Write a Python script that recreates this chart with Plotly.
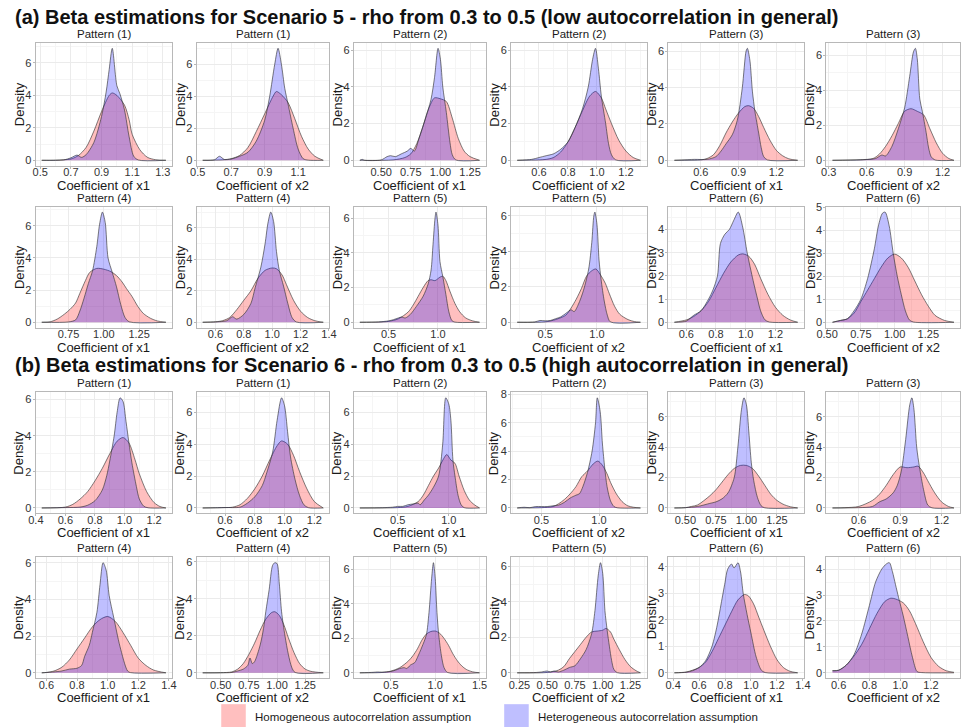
import plotly.graph_objects as go

# ---------------------------------------------------------------------------
# Kernel density curves of the estimated coefficients (x = estimate, y = density)
# "hom" = homogeneous autocorrelation assumption, "het" = heterogeneous
# ---------------------------------------------------------------------------

# Scenario 5 -------------------------------------------------------------
a1_hom_x = [0.51, 0.6, 0.7, 0.75, 0.8, 0.85, 0.9, 0.95, 0.97, 1.0, 1.05, 1.08, 1.1, 1.15, 1.2, 1.25, 1.32]
a1_hom_y = [0, 0.01, 0.08, 0.3, 0.8, 1.8, 3.0, 4.0, 4.15, 4.0, 3.4, 2.5, 1.6, 0.65, 0.18, 0.04, 0]
a1_het_x = [0.51, 0.65, 0.7, 0.74, 0.77, 0.8, 0.85, 0.9, 0.93, 0.95, 0.97, 1.0, 1.02, 1.05, 1.08, 1.11, 1.14, 1.32]
a1_het_y = [0, 0.02, 0.15, 0.32, 0.18, 0.35, 1.1, 2.7, 4.2, 5.6, 6.9, 4.6, 4.1, 3.1, 1.45, 0.25, 0.02, 0]

a2_hom_x = [0.53, 0.65, 0.7, 0.75, 0.8, 0.85, 0.9, 0.95, 0.97, 1.0, 1.04, 1.08, 1.12, 1.16, 1.2, 1.25]
a2_hom_y = [0, 0.03, 0.1, 0.3, 0.8, 1.8, 2.9, 4.0, 4.3, 4.1, 3.6, 2.6, 1.5, 0.7, 0.25, 0]
a2_het_x = [0.53, 0.6, 0.63, 0.66, 0.7, 0.75, 0.8, 0.85, 0.9, 0.93, 0.96, 0.98, 1.0, 1.02, 1.04, 1.07, 1.1, 1.13, 1.16, 1.25]
a2_het_y = [0, 0.03, 0.25, 0.05, 0.08, 0.25, 0.5, 1.2, 2.5, 4.0, 6.0, 7.0, 6.0, 4.5, 3.5, 2.0, 0.7, 0.1, 0.01, 0]

a3_hom_x = [0.32, 0.6, 0.7, 0.75, 0.8, 0.85, 0.9, 0.95, 1.0, 1.05, 1.1, 1.15, 1.2, 1.25, 1.33]
a3_hom_y = [0, 0.02, 0.15, 0.35, 0.9, 1.8, 2.8, 3.4, 3.35, 3.2, 2.3, 1.2, 0.5, 0.2, 0]
a3_het_x = [0.32, 0.34, 0.36, 0.5, 0.55, 0.58, 0.62, 0.67, 0.72, 0.75, 0.78, 0.82, 0.87, 0.92, 0.95, 0.98, 1.0, 1.02, 1.05, 1.08, 1.1, 1.13, 1.33]
a3_het_y = [0, 0.05, 0, 0.02, 0.2, 0.25, 0.2, 0.35, 0.5, 0.65, 0.5, 1.2, 2.2, 3.3, 4.5, 6.1, 5.5, 4.0, 2.6, 1.0, 0.3, 0.02, 0]

a4_hom_x = [0.45, 0.6, 0.65, 0.7, 0.75, 0.8, 0.85, 0.9, 0.95, 0.99, 1.03, 1.06, 1.1, 1.15, 1.2, 1.25, 1.3]
a4_hom_y = [0, 0.02, 0.05, 0.15, 0.45, 1.0, 1.8, 2.7, 3.5, 3.75, 3.4, 2.8, 2.0, 1.1, 0.5, 0.15, 0]
a4_het_x = [0.45, 0.55, 0.6, 0.65, 0.7, 0.75, 0.8, 0.85, 0.9, 0.94, 0.97, 0.99, 1.01, 1.03, 1.06, 1.08, 1.1, 1.13, 1.3]
a4_het_y = [0, 0.05, 0.15, 0.25, 0.35, 0.6, 1.0, 1.8, 2.8, 4.0, 5.5, 6.1, 5.0, 3.5, 2.0, 0.9, 0.3, 0.02, 0]

a5_hom_x = [0.39, 0.6, 0.65, 0.7, 0.75, 0.8, 0.85, 0.9, 0.95, 0.98, 1.02, 1.06, 1.1, 1.15, 1.2, 1.25, 1.3, 1.37]
a5_hom_y = [0, 0.02, 0.1, 0.3, 0.8, 1.5, 2.1, 2.6, 2.95, 3.0, 2.85, 2.4, 1.8, 1.1, 0.55, 0.25, 0.08, 0]
a5_het_x = [0.39, 0.55, 0.65, 0.72, 0.76, 0.8, 0.85, 0.89, 0.93, 0.96, 0.97, 0.99, 1.01, 1.03, 1.06, 1.08, 1.1, 1.13, 1.37]
a5_het_y = [0, 0.05, 0.05, 0.2, 0.5, 0.9, 1.4, 2.2, 4.0, 6.0, 6.15, 5.5, 3.8, 2.7, 1.5, 0.7, 0.2, 0.02, 0]

a6_hom_x = [0.33, 0.55, 0.65, 0.7, 0.75, 0.8, 0.85, 0.9, 0.95, 1.0, 1.05, 1.1, 1.15, 1.2, 1.25, 1.29]
a6_hom_y = [0, 0.02, 0.1, 0.35, 0.8, 1.4, 2.1, 2.8, 2.95, 2.8, 2.6, 1.8, 1.0, 0.4, 0.1, 0]
a6_het_x = [0.33, 0.6, 0.67, 0.72, 0.75, 0.8, 0.85, 0.9, 0.94, 0.97, 0.985, 1.0, 1.02, 1.04, 1.07, 1.09, 1.11, 1.14, 1.29]
a6_het_y = [0, 0.05, 0.1, 0.3, 0.25, 0.8, 1.8, 3.0, 4.8, 6.2, 6.4, 5.8, 3.5, 2.8, 1.6, 0.7, 0.2, 0.02, 0]

a7_hom_x = [0.56, 0.62, 0.67, 0.72, 0.76, 0.8, 0.83, 0.87, 0.9, 0.95, 1.0, 1.05, 1.09, 1.13, 1.16, 1.2, 1.24, 1.28, 1.33, 1.38, 1.44]
a7_hom_y = [0, 0.03, 0.2, 0.5, 0.8, 1.2, 1.8, 2.6, 3.1, 3.35, 3.3, 3.15, 2.9, 2.5, 2.1, 1.6, 1.0, 0.55, 0.25, 0.08, 0]
a7_het_x = [0.56, 0.75, 0.8, 0.83, 0.86, 0.89, 0.92, 0.95, 0.97, 0.99, 1.01, 1.03, 1.06, 1.09, 1.12, 1.15, 1.18, 1.44]
a7_het_y = [0, 0.02, 0.15, 0.7, 1.5, 2.4, 3.2, 4.7, 6.1, 6.85, 6.2, 4.0, 3.1, 2.2, 1.1, 0.3, 0.03, 0]

a8_hom_x = [0.51, 0.6, 0.65, 0.7, 0.75, 0.8, 0.85, 0.9, 0.95, 1.0, 1.03, 1.07, 1.1, 1.15, 1.2, 1.25, 1.3, 1.36]
a8_hom_y = [0, 0.03, 0.1, 0.3, 0.8, 1.4, 2.0, 2.8, 3.3, 3.45, 3.4, 3.0, 2.4, 1.4, 0.7, 0.3, 0.1, 0]
a8_het_x = [0.51, 0.6, 0.68, 0.72, 0.75, 0.8, 0.85, 0.88, 0.92, 0.95, 0.97, 0.99, 1.01, 1.03, 1.05, 1.08, 1.11, 1.14, 1.17, 1.36]
a8_het_y = [0, 0.02, 0.1, 0.35, 0.2, 0.5, 1.2, 2.2, 3.5, 5.0, 6.3, 7.0, 6.4, 4.5, 3.3, 2.3, 1.2, 0.3, 0.02, 0]

a9_hom_x = [0.21, 0.4, 0.5, 0.6, 0.7, 0.75, 0.8, 0.85, 0.9, 0.93, 0.97, 1.02, 1.05, 1.08, 1.12, 1.17, 1.22, 1.28, 1.35, 1.42]
a9_hom_y = [0, 0.01, 0.05, 0.2, 0.6, 1.0, 1.5, 2.0, 2.4, 2.45, 2.4, 2.6, 2.65, 2.4, 1.8, 1.1, 0.6, 0.25, 0.08, 0]
a9_het_x = [0.21, 0.4, 0.5, 0.55, 0.6, 0.63, 0.67, 0.72, 0.78, 0.85, 0.9, 0.93, 0.95, 0.97, 0.98, 1.0, 1.02, 1.05, 1.08, 1.11, 1.14, 1.17, 1.42]
a9_het_y = [0, 0.02, 0.08, 0.15, 0.25, 0.3, 0.25, 0.45, 0.9, 1.5, 2.2, 3.0, 4.5, 6.0, 6.35, 5.6, 3.5, 2.6, 1.6, 0.6, 0.1, 0.01, 0]

a10_hom_x = [0.23, 0.5, 0.6, 0.7, 0.75, 0.8, 0.85, 0.9, 0.95, 0.99, 1.03, 1.08, 1.12, 1.17, 1.22, 1.3, 1.36, 1.42]
a10_hom_y = [0, 0.02, 0.15, 0.4, 0.8, 1.3, 1.9, 2.6, 2.9, 3.0, 2.7, 2.2, 1.6, 0.9, 0.45, 0.15, 0.04, 0]
a10_het_x = [0.23, 0.4, 0.45, 0.5, 0.55, 0.6, 0.65, 0.7, 0.75, 0.78, 0.82, 0.87, 0.92, 0.95, 0.97, 0.98, 1.0, 1.02, 1.04, 1.07, 1.1, 1.13, 1.42]
a10_het_y = [0, 0.02, 0.1, 0.08, 0.1, 0.2, 0.3, 0.5, 0.7, 0.6, 1.0, 1.8, 3.0, 4.5, 6.0, 6.2, 5.5, 3.5, 2.4, 1.2, 0.4, 0.02, 0]

a11_hom_x = [0.52, 0.6, 0.65, 0.7, 0.75, 0.8, 0.85, 0.9, 0.95, 0.98, 1.02, 1.06, 1.1, 1.15, 1.2, 1.25, 1.3, 1.35]
a11_hom_y = [0, 0.1, 0.25, 0.5, 0.9, 1.5, 2.1, 2.6, 2.9, 2.95, 2.85, 2.5, 1.9, 1.2, 0.65, 0.3, 0.1, 0]
a11_het_x = [0.52, 0.6, 0.65, 0.7, 0.75, 0.78, 0.81, 0.83, 0.86, 0.89, 0.92, 0.95, 0.98, 1.01, 1.05, 1.08, 1.1, 1.13, 1.16, 1.35]
a11_het_y = [0, 0.05, 0.3, 0.5, 1.0, 1.4, 2.0, 3.4, 3.8, 4.0, 4.4, 4.75, 4.1, 3.0, 1.8, 1.0, 0.5, 0.1, 0.01, 0]

a12_hom_x = [0.54, 0.6, 0.65, 0.7, 0.75, 0.8, 0.85, 0.9, 0.95, 1.0, 1.05, 1.1, 1.15, 1.2, 1.25, 1.3, 1.37, 1.44]
a12_hom_y = [0, 0.08, 0.15, 0.4, 0.9, 1.4, 1.9, 2.4, 2.8, 2.97, 2.8, 2.4, 1.8, 1.2, 0.7, 0.3, 0.08, 0]
a12_het_x = [0.54, 0.6, 0.65, 0.7, 0.75, 0.8, 0.85, 0.88, 0.91, 0.93, 0.96, 0.99, 1.02, 1.05, 1.08, 1.11, 1.14, 1.44]
a12_het_y = [0, 0.08, 0.15, 0.5, 1.0, 1.9, 3.2, 4.2, 4.75, 4.8, 4.2, 3.0, 2.0, 1.2, 0.5, 0.1, 0.01, 0]

# Scenario 6 -------------------------------------------------------------
b1_hom_x = [0.44, 0.6, 0.65, 0.7, 0.75, 0.8, 0.85, 0.9, 0.95, 0.99, 1.03, 1.07, 1.1, 1.15, 1.2, 1.24, 1.28]
b1_hom_y = [0, 0.05, 0.2, 0.5, 0.9, 1.5, 2.2, 3.0, 3.7, 3.9, 3.6, 2.7, 1.9, 0.9, 0.3, 0.08, 0]
b1_het_x = [0.44, 0.6, 0.7, 0.75, 0.8, 0.85, 0.88, 0.9, 0.93, 0.95, 0.97, 0.99, 1.01, 1.03, 1.05, 1.08, 1.1, 1.13, 1.16, 1.28]
b1_het_y = [0, 0.02, 0.05, 0.15, 0.4, 1.0, 1.8, 2.6, 4.0, 5.3, 6.1, 5.9, 4.8, 3.6, 2.5, 1.2, 0.5, 0.1, 0.01, 0]

b2_hom_x = [0.45, 0.6, 0.65, 0.7, 0.75, 0.8, 0.85, 0.9, 0.95, 0.98, 1.02, 1.06, 1.1, 1.15, 1.2, 1.26]
b2_hom_y = [0, 0.02, 0.05, 0.2, 0.6, 1.2, 2.0, 3.0, 3.9, 4.2, 4.0, 3.3, 2.3, 1.2, 0.4, 0]
b2_het_x = [0.45, 0.55, 0.6, 0.7, 0.75, 0.8, 0.85, 0.88, 0.92, 0.95, 0.98, 1.0, 1.02, 1.04, 1.07, 1.1, 1.13, 1.16, 1.26]
b2_het_y = [0, 0.02, 0.03, 0.05, 0.3, 0.7, 1.4, 2.2, 3.5, 5.5, 6.9, 6.4, 4.8, 3.2, 1.8, 0.8, 0.2, 0.02, 0]

b3_hom_x = [0.13, 0.5, 0.6, 0.7, 0.75, 0.8, 0.85, 0.9, 0.95, 0.98, 1.02, 1.06, 1.1, 1.15, 1.2, 1.25, 1.3]
b3_hom_y = [0, 0.02, 0.1, 0.4, 0.8, 1.4, 2.0, 2.5, 3.1, 3.35, 3.0, 2.8, 2.0, 1.1, 0.5, 0.2, 0]
b3_het_x = [0.13, 0.35, 0.45, 0.5, 0.55, 0.6, 0.65, 0.7, 0.72, 0.76, 0.8, 0.85, 0.9, 0.94, 0.97, 1.0, 1.02, 1.04, 1.06, 1.09, 1.12, 1.15, 1.3]
b3_het_y = [0, 0.02, 0.05, 0.1, 0.1, 0.2, 0.25, 0.3, 0.2, 0.5, 0.8, 1.3, 2.0, 4.0, 6.9, 6.5, 5.5, 3.0, 2.0, 0.8, 0.2, 0.02, 0]

b4_hom_x = [0.29, 0.5, 0.6, 0.65, 0.7, 0.75, 0.8, 0.85, 0.9, 0.95, 0.99, 1.03, 1.07, 1.1, 1.15, 1.2, 1.25, 1.3, 1.36]
b4_hom_y = [0, 0.02, 0.1, 0.3, 0.6, 1.0, 1.5, 2.2, 2.6, 3.1, 3.3, 3.0, 2.4, 1.8, 1.0, 0.45, 0.15, 0.05, 0]
b4_het_x = [0.29, 0.35, 0.4, 0.45, 0.5, 0.55, 0.6, 0.65, 0.7, 0.75, 0.8, 0.83, 0.86, 0.9, 0.94, 0.97, 0.985, 1.01, 1.03, 1.05, 1.07, 1.1, 1.13, 1.16, 1.36]
b4_het_y = [0, 0.05, 0.02, 0.1, 0.1, 0.1, 0.15, 0.2, 0.4, 0.7, 0.9, 1.0, 1.5, 2.5, 4.0, 6.0, 7.75, 6.8, 4.5, 2.8, 1.5, 0.5, 0.1, 0.01, 0]

b5_hom_x = [0.41, 0.5, 0.55, 0.6, 0.7, 0.75, 0.8, 0.85, 0.9, 0.95, 1.0, 1.05, 1.1, 1.15, 1.2, 1.25, 1.3, 1.36, 1.42]
b5_hom_y = [0, 0.02, 0.1, 0.2, 0.8, 1.2, 1.7, 2.2, 2.6, 2.8, 2.8, 2.6, 2.1, 1.5, 0.9, 0.5, 0.25, 0.08, 0]
b5_het_x = [0.41, 0.5, 0.6, 0.7, 0.75, 0.8, 0.85, 0.9, 0.93, 0.96, 0.98, 1.0, 1.02, 1.04, 1.06, 1.09, 1.12, 1.15, 1.42]
b5_het_y = [0, 0.02, 0.1, 0.3, 0.4, 0.6, 1.0, 2.0, 4.0, 6.5, 7.25, 6.8, 5.0, 3.0, 1.8, 0.7, 0.15, 0.01, 0]

b6_hom_x = [0.41, 0.5, 0.6, 0.7, 0.75, 0.8, 0.85, 0.9, 0.95, 1.0, 1.03, 1.07, 1.1, 1.15, 1.2, 1.25, 1.29]
b6_hom_y = [0, 0.02, 0.1, 0.5, 0.9, 1.5, 2.2, 2.7, 2.65, 2.7, 2.75, 2.3, 1.8, 1.0, 0.4, 0.1, 0]
b6_het_x = [0.41, 0.6, 0.7, 0.75, 0.8, 0.85, 0.88, 0.91, 0.94, 0.97, 0.985, 1.0, 1.02, 1.04, 1.07, 1.1, 1.13, 1.29]
b6_het_y = [0, 0.02, 0.1, 0.4, 0.6, 1.0, 1.5, 2.5, 4.5, 6.8, 7.25, 6.5, 4.0, 2.7, 1.2, 0.2, 0.01, 0]

b7_hom_x = [0.57, 0.6, 0.65, 0.7, 0.75, 0.8, 0.85, 0.9, 0.95, 1.0, 1.05, 1.1, 1.15, 1.2, 1.25, 1.3, 1.38]
b7_hom_y = [0, 0.02, 0.1, 0.3, 0.7, 1.3, 1.9, 2.5, 2.9, 3.07, 2.8, 2.2, 1.5, 0.8, 0.4, 0.15, 0]
b7_het_x = [0.57, 0.65, 0.7, 0.75, 0.8, 0.83, 0.85, 0.88, 0.9, 0.93, 0.95, 0.97, 0.99, 1.01, 1.04, 1.08, 1.13, 1.15, 1.38]
b7_het_y = [0, 0.05, 0.1, 0.2, 0.25, 0.4, 0.9, 1.5, 2.2, 3.3, 4.8, 6.0, 5.6, 4.2, 3.0, 1.45, 0.1, 0.01, 0]

b8_hom_x = [0.34, 0.5, 0.6, 0.65, 0.7, 0.75, 0.8, 0.85, 0.9, 0.95, 0.98, 1.02, 1.06, 1.1, 1.15, 1.2, 1.25, 1.3, 1.41]
b8_hom_y = [0, 0.01, 0.05, 0.2, 0.5, 1.0, 1.6, 2.3, 2.9, 3.25, 3.3, 3.1, 2.6, 1.9, 1.1, 0.5, 0.2, 0.08, 0]
b8_het_x = [0.34, 0.5, 0.6, 0.65, 0.7, 0.74, 0.76, 0.78, 0.8, 0.85, 0.88, 0.9, 0.93, 0.96, 0.98, 1.0, 1.02, 1.04, 1.07, 1.1, 1.13, 1.16, 1.41]
b8_het_y = [0, 0.0, 0.02, 0.1, 0.2, 0.4, 0.8, 0.5, 0.6, 1.5, 2.4, 3.3, 4.5, 5.8, 5.95, 5.9, 4.8, 3.3, 2.0, 1.0, 0.3, 0.02, 0]

b9_hom_x = [0.15, 0.4, 0.5, 0.6, 0.7, 0.75, 0.8, 0.85, 0.9, 0.95, 1.0, 1.05, 1.1, 1.15, 1.2, 1.25, 1.3, 1.35, 1.42, 1.5]
b9_hom_y = [0, 0.02, 0.1, 0.3, 0.7, 1.0, 1.4, 1.9, 2.25, 2.4, 2.43, 2.3, 2.0, 1.6, 1.1, 0.7, 0.4, 0.2, 0.06, 0]
b9_het_x = [0.15, 0.3, 0.35, 0.4, 0.5, 0.55, 0.6, 0.65, 0.68, 0.72, 0.77, 0.8, 0.85, 0.9, 0.93, 0.96, 0.98, 1.0, 1.02, 1.04, 1.07, 1.1, 1.14, 1.5]
b9_het_y = [0, 0.03, 0.05, 0.04, 0.08, 0.15, 0.25, 0.3, 0.25, 0.45, 0.6, 0.9, 1.5, 2.2, 3.5, 5.5, 6.4, 5.5, 3.5, 2.2, 1.0, 0.3, 0.02, 0]

b10_hom_x = [0.23, 0.5, 0.6, 0.65, 0.7, 0.75, 0.8, 0.85, 0.9, 0.95, 1.0, 1.03, 1.07, 1.1, 1.15, 1.2, 1.25, 1.3, 1.34]
b10_hom_y = [0, 0.02, 0.15, 0.35, 0.8, 1.2, 1.6, 2.0, 2.3, 2.35, 2.4, 2.5, 2.3, 1.9, 1.3, 0.75, 0.35, 0.12, 0]
b10_het_x = [0.23, 0.4, 0.45, 0.5, 0.53, 0.56, 0.6, 0.65, 0.7, 0.75, 0.8, 0.85, 0.9, 0.93, 0.96, 0.98, 1.0, 1.02, 1.04, 1.06, 1.08, 1.1, 1.13, 1.34]
b10_het_y = [0, 0.02, 0.05, 0.1, 0.05, 0.1, 0.05, 0.15, 0.3, 0.4, 0.8, 1.3, 2.2, 3.5, 5.5, 6.2, 5.6, 3.5, 2.4, 1.5, 0.7, 0.2, 0.01, 0]

b11_hom_x = [0.41, 0.5, 0.55, 0.6, 0.65, 0.7, 0.75, 0.8, 0.85, 0.9, 0.95, 0.98, 1.02, 1.06, 1.1, 1.15, 1.2, 1.25, 1.3, 1.36]
b11_hom_y = [0, 0.03, 0.1, 0.2, 0.4, 0.8, 1.3, 1.8, 2.3, 2.75, 2.95, 2.9, 2.6, 2.1, 1.6, 1.0, 0.5, 0.2, 0.06, 0]
b11_het_x = [0.41, 0.5, 0.55, 0.6, 0.65, 0.7, 0.74, 0.77, 0.8, 0.82, 0.85, 0.87, 0.9, 0.92, 0.94, 0.97, 1.0, 1.04, 1.08, 1.11, 1.36]
b11_het_y = [0, 0.02, 0.08, 0.2, 0.45, 1.0, 1.8, 2.6, 3.4, 3.9, 4.1, 3.95, 4.15, 3.8, 3.0, 2.2, 1.5, 0.6, 0.1, 0.01, 0]

b12_hom_x = [0.56, 0.6, 0.65, 0.7, 0.75, 0.8, 0.85, 0.9, 0.94, 0.97, 1.02, 1.06, 1.1, 1.15, 1.2, 1.25, 1.3, 1.35]
b12_hom_y = [0.08, 0.1, 0.3, 0.65, 1.1, 1.7, 2.3, 2.75, 2.88, 2.85, 2.7, 2.4, 1.9, 1.2, 0.6, 0.25, 0.08, 0.02]
b12_het_x = [0.56, 0.6, 0.65, 0.7, 0.75, 0.8, 0.84, 0.88, 0.91, 0.93, 0.95, 0.97, 0.99, 1.02, 1.05, 1.08, 1.11, 1.14, 1.35]
b12_het_y = [0.08, 0.1, 0.3, 0.7, 1.5, 2.6, 3.5, 4.0, 4.2, 4.25, 3.9, 3.4, 2.9, 2.2, 1.4, 0.6, 0.05, 0.01, 0.0]

# Facet labels and axis text
panel_titles = ["Pattern (1)", "Pattern (1)", "Pattern (2)", "Pattern (2)", "Pattern (3)", "Pattern (3)",
                "Pattern (4)", "Pattern (4)", "Pattern (5)", "Pattern (5)", "Pattern (6)", "Pattern (6)"] * 2
x_titles = ["Coefficient of x1", "Coefficient of x2"] * 12
# x tick anchor, x tick step, x tick format, y tick step
tick_specs = [
    (0.5, 0.2, ".1f", 2), (0.5, 0.2, ".1f", 2), (0.5, 0.25, ".2f", 2), (0.6, 0.2, ".1f", 2),
    (0.6, 0.3, ".1f", 2), (0.3, 0.3, ".1f", 2), (0.75, 0.25, ".2f", 2), (0.6, 0.2, ".1f", 2),
    (0.5, 0.5, ".1f", 2), (0.5, 0.5, ".1f", 2), (0.6, 0.2, ".1f", 1), (0.5, 0.25, ".2f", 1),
    (0.4, 0.2, ".1f", 2), (0.6, 0.2, ".1f", 2), (0.5, 0.5, ".1f", 2), (0.5, 0.5, ".1f", 2),
    (0.5, 0.25, ".2f", 2), (0.6, 0.3, ".1f", 2), (0.6, 0.2, ".1f", 2), (0.5, 0.25, ".2f", 2),
    (0.5, 0.5, ".1f", 2), (0.25, 0.25, ".2f", 2), (0.4, 0.2, ".1f", 1), (0.6, 0.2, ".1f", 1),
]
section_titles = [
    "(a) Beta estimations for Scenario 5 - rho from 0.3 to 0.5 (low autocorrelation in general)",
    "(b) Beta estimations for Scenario 6 - rho from 0.3 to 0.5 (high autocorrelation in general)",
]
legend_labels = ["Homogeneous autocorrelation assumption", "Heterogeneous autocorrelation assumption"]

curves = [
    (a1_hom_x, a1_hom_y, a1_het_x, a1_het_y), (a2_hom_x, a2_hom_y, a2_het_x, a2_het_y),
    (a3_hom_x, a3_hom_y, a3_het_x, a3_het_y), (a4_hom_x, a4_hom_y, a4_het_x, a4_het_y),
    (a5_hom_x, a5_hom_y, a5_het_x, a5_het_y), (a6_hom_x, a6_hom_y, a6_het_x, a6_het_y),
    (a7_hom_x, a7_hom_y, a7_het_x, a7_het_y), (a8_hom_x, a8_hom_y, a8_het_x, a8_het_y),
    (a9_hom_x, a9_hom_y, a9_het_x, a9_het_y), (a10_hom_x, a10_hom_y, a10_het_x, a10_het_y),
    (a11_hom_x, a11_hom_y, a11_het_x, a11_het_y), (a12_hom_x, a12_hom_y, a12_het_x, a12_het_y),
    (b1_hom_x, b1_hom_y, b1_het_x, b1_het_y), (b2_hom_x, b2_hom_y, b2_het_x, b2_het_y),
    (b3_hom_x, b3_hom_y, b3_het_x, b3_het_y), (b4_hom_x, b4_hom_y, b4_het_x, b4_het_y),
    (b5_hom_x, b5_hom_y, b5_het_x, b5_het_y), (b6_hom_x, b6_hom_y, b6_het_x, b6_het_y),
    (b7_hom_x, b7_hom_y, b7_het_x, b7_het_y), (b8_hom_x, b8_hom_y, b8_het_x, b8_het_y),
    (b9_hom_x, b9_hom_y, b9_het_x, b9_het_y), (b10_hom_x, b10_hom_y, b10_het_x, b10_het_y),
    (b11_hom_x, b11_hom_y, b11_het_x, b11_het_y), (b12_hom_x, b12_hom_y, b12_het_x, b12_het_y),
]

# ---------------------------------------------------------------------------
# Layout geometry (pixels)
# ---------------------------------------------------------------------------
W, H = 969, 727
COLS = [(26, 165), (190, 325), (350, 484), (510, 648), (670, 808), (831, 967)]
ROWS = [(38, 162), (203, 325), (390, 512), (556, 678)]

FONT = "Liberation Sans, Arial, sans-serif"
HOM_FILL = "rgba(255,0,0,0.25)"
HET_FILL = "rgba(0,0,255,0.25)"
OUTLINE = "rgba(50,50,50,0.9)"
BORDER = "#b8b8b8"
GRID = "#ebebeb"
GRID_MINOR = "#f5f5f5"


def px_x(p):
    return p / W


def px_y(p):
    return 1 - p / H


fig = go.Figure()
layout = dict(
    width=W, height=H, margin=dict(l=0, r=0, t=0, b=0),
    paper_bgcolor="white", plot_bgcolor="white", showlegend=False,
    font=dict(family=FONT, color="#1a1a1a"),
)
annotations = []
shapes = []

for i, (hx, hy, ex, ey) in enumerate(curves):
    r, c = divmod(i, 6)
    left, right = COLS[c]
    top, bottom = ROWS[r]
    sfx = "" if i == 0 else str(i + 1)

    # ggplot-like 5% expansion of the data extent
    xs = hx + ex
    xmin, xmax = min(xs), max(xs)
    pad = 0.05 * (xmax - xmin)
    ymax = max(hy + ey)

    tick0, dtick, fmt, ydtick = tick_specs[i]

    for xv, yv, fill, name in ((hx, hy, HOM_FILL, legend_labels[0]), (ex, ey, HET_FILL, legend_labels[1])):
        fig.add_trace(go.Scatter(
            x=xv, y=yv, name=name, mode="lines",
            line=dict(color=OUTLINE, width=0.7, shape="spline", smoothing=0.8),
            fill="tozeroy", fillcolor=fill,
            xaxis="x" + sfx, yaxis="y" + sfx, hoverinfo="skip",
        ))

    layout["xaxis" + sfx] = dict(
        domain=[px_x(left), px_x(right)], anchor="y" + sfx,
        range=[xmin - pad, xmax + pad],
        tickmode="linear", tick0=tick0, dtick=dtick, tickformat=fmt,
        ticks="outside", ticklen=2, tickcolor=BORDER, tickwidth=1,
        ticklabelstandoff=-6,
        tickfont=dict(size=11, color="#333333", family=FONT),
        showline=True, linecolor=BORDER, linewidth=1, mirror=True,
        showgrid=True, gridcolor=GRID, gridwidth=1, zeroline=False,
        minor=dict(showgrid=True, gridcolor=GRID_MINOR, gridwidth=1, tick0=tick0, dtick=dtick / 2),
    )
    layout["yaxis" + sfx] = dict(
        domain=[px_y(bottom), px_y(top)], anchor="x" + sfx,
        range=[-0.05 * ymax, 1.05 * ymax],
        tickmode="linear", tick0=0, dtick=ydtick, tickformat="d",
        ticks="outside", ticklen=2, tickcolor=BORDER, tickwidth=1,
        ticklabelstandoff=-1,
        tickfont=dict(size=11, color="#333333", family=FONT),
        showline=True, linecolor=BORDER, linewidth=1, mirror=True,
        showgrid=True, gridcolor=GRID, gridwidth=1, zeroline=False,
        minor=dict(showgrid=True, gridcolor=GRID_MINOR, gridwidth=1, tick0=0, dtick=ydtick / 2),
    )

    cx = (left + right) / 2
    annotations.append(dict(
        text=panel_titles[i], x=px_x(cx), y=px_y(top - 1), xref="paper", yref="paper",
        xanchor="center", yanchor="bottom", showarrow=False,
        font=dict(size=11.5, color="#1a1a1a", family=FONT),
    ))
    annotations.append(dict(
        text=x_titles[i], x=px_x(cx), y=px_y(bottom + 19.5), xref="paper", yref="paper",
        xanchor="center", yanchor="middle", showarrow=False,
        font=dict(size=13, color="#1a1a1a", family=FONT),
    ))
    annotations.append(dict(
        text="Density", x=px_x(left - 17), y=px_y((top + bottom) / 2), xref="paper", yref="paper",
        xanchor="center", yanchor="middle", showarrow=False, textangle=-90,
        font=dict(size=13, color="#1a1a1a", family=FONT),
    ))

# Section headings
for text, ypix in zip(section_titles, (12, 362)):
    annotations.append(dict(
        text="<b>" + text + "</b>", x=px_x(3), y=px_y(ypix), xref="paper", yref="paper",
        xanchor="left", yanchor="middle", showarrow=False,
        font=dict(size=20, color="#111111", family=FONT),
    ))

# Legend keys and labels
for (kx0, kx1, tx), fill, label in zip(((215, 240, 247), (503, 528, 535)), (HOM_FILL, HET_FILL), legend_labels):
    shapes.append(dict(
        type="rect", xref="paper", yref="paper",
        x0=px_x(kx0), x1=px_x(kx1), y0=px_y(728), y1=px_y(704),
        fillcolor=fill, line=dict(width=0),
    ))
    annotations.append(dict(
        text=label, x=px_x(tx), y=px_y(717), xref="paper", yref="paper",
        xanchor="left", yanchor="middle", showarrow=False,
        font=dict(size=11.5, color="#1a1a1a", family=FONT),
    ))

layout["annotations"] = annotations
layout["shapes"] = shapes
fig.update_layout(**layout)

fig.write_html("out.html")
